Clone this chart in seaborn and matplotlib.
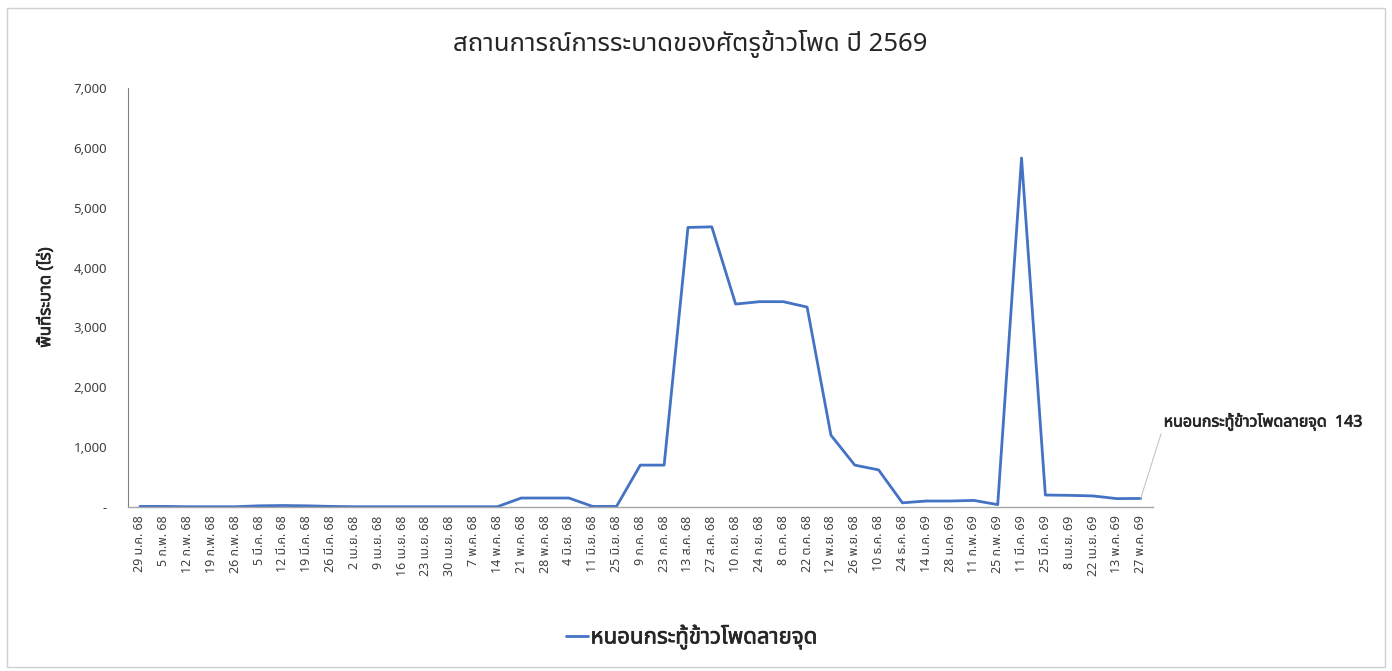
import numpy as np
import pandas as pd
import matplotlib
matplotlib.use("Agg")
import matplotlib.pyplot as plt
import matplotlib.patheffects as pe
import seaborn as sns
from matplotlib import font_manager
from matplotlib.ft2font import FT2Font
from matplotlib.ticker import FuncFormatter
from matplotlib.patches import Rectangle

# data
dates = ['29 ม.ค. 68', '5 ก.พ. 68', '12 ก.พ. 68', '19 ก.พ. 68', '26 ก.พ. 68',
         '5 มี.ค. 68', '12 มี.ค. 68', '19 มี.ค. 68', '26 มี.ค. 68', '2 เม.ย. 68',
         '9 เม.ย. 68', '16 เม.ย. 68', '23 เม.ย. 68', '30 เม.ย. 68', '7 พ.ค. 68',
         '14 พ.ค. 68', '21 พ.ค. 68', '28 พ.ค. 68', '4 มิ.ย. 68', '11 มิ.ย. 68',
         '25 มิ.ย. 68', '9 ก.ค. 68', '23 ก.ค. 68', '13 ส.ค. 68', '27 ส.ค. 68',
         '10 ก.ย. 68', '24 ก.ย. 68', '8 ต.ค. 68', '22 ต.ค. 68', '12 พ.ย. 68',
         '26 พ.ย. 68', '10 ธ.ค. 68', '24 ธ.ค. 68', '14 ม.ค. 69', '28 ม.ค. 69',
         '11 ก.พ. 69', '25 ก.พ. 69', '11 มี.ค. 69', '25 มี.ค. 69', '8 เม.ย. 69',
         '22 เม.ย. 69', '13 พ.ค. 69', '27 พ.ค. 69']
area = [10, 10, 5, 5, 5,
        20, 25, 20, 10, 5,
        5, 5, 5, 5, 5,
        5, 150, 150, 150, 10,
        10, 700, 700, 4670, 4680,
        3390, 3430, 3430, 3340, 1200,
        700, 620, 70, 100, 100,
        110, 40, 5830, 200, 195,
        185, 140, 143]
series_name = 'หนอนกระทู้ข้าวโพดลายจุด'
title = 'สถานการณ์การระบาดของศัตรูข้าวโพด ปี 2569'
ylabel = 'พื้นที่ระบาด (ไร่)'
yticks = [0, 1000, 2000, 3000, 4000, 5000, 6000, 7000]


def find_thai_font():
    names = []
    for f in font_manager.fontManager.ttflist:
        try:
            if ord('ก') in FT2Font(f.fname).get_charmap():
                names.append(f.name)
        except Exception:
            pass
    for pref in ['Tahoma', 'Noto Sans Thai', 'Noto Sans Thai UI', 'Loma', 'Garuda']:
        if pref in names:
            return pref
    return names[0] if names else None


sns.set_style('white')
thai = find_thai_font()
fams = [thai, 'DejaVu Sans'] if thai else ['DejaVu Sans']
plt.rcParams['font.family'] = fams

# fake bold for the thai font (no bold face installed)
bold = [pe.withStroke(linewidth=0.5, foreground='#262626')]

df = pd.DataFrame({'pos': np.arange(len(dates)), 'area': area})

fig = plt.figure(figsize=(13.92, 6.71), dpi=100)
ax = fig.add_axes([0.092, 0.2444, 0.736, 0.6245])

sns.lineplot(data=df, x='pos', y='area', ax=ax, color='#4472C4', linewidth=2.0,
             label=series_name, legend=False)

ax.set_xlim(-0.5, len(dates) - 0.5)
ax.set_ylim(0, 7000)
ax.set_xticks(df['pos'], dates, rotation=90, fontsize=9, color='#404040')
ax.set_yticks(yticks)
ax.yaxis.set_major_formatter(FuncFormatter(lambda v, p: '-' if v == 0 else f'{int(v):,}'))
ax.tick_params(axis='y', labelsize=9.5, labelcolor='#404040', length=6,
               direction='inout', color='#808080', width=0.8, pad=12)
ax.tick_params(axis='x', length=0, pad=6)
for s in ['top', 'right']:
    ax.spines[s].set_visible(False)
ax.spines['left'].set_color('#808080')
ax.spines['left'].set_linewidth(0.8)
ax.spines['bottom'].set_color('#a6a6a6')
ax.spines['bottom'].set_linewidth(1.0)
ax.set_xlabel('')
ax.set_ylabel(ylabel, fontsize=12, color='#262626', labelpad=14, path_effects=bold)

fig.suptitle(title, fontsize=18.5, color='#262626', x=0.496, y=0.955)

# data label for the last point with leader line
ax.annotate(f'{series_name}  {area[-1]}', xy=(df['pos'].iloc[-1], area[-1]),
            xytext=(0.836, 0.371), textcoords='figure fraction',
            ha='left', va='center', fontsize=11.5, color='#262626', path_effects=bold,
            arrowprops=dict(arrowstyle='-', color='#bfbfbf', lw=0.7,
                            relpos=(0, 0.3), shrinkA=0, shrinkB=0))

handles, labels = ax.get_legend_handles_labels()
leg = fig.legend(handles, labels, loc='center', bbox_to_anchor=(0.497, 0.051),
                 frameon=False, fontsize=16, handlelength=1.0, handletextpad=0.1)
for t in leg.get_texts():
    t.set_path_effects(bold)
    t.set_color('#262626')

fig.patches.append(Rectangle((0.005, 0.006), 0.99, 0.982, transform=fig.transFigure,
                             fill=False, edgecolor='#d0d0d0', linewidth=1.0))

fig.savefig('out.png', dpi=100)
